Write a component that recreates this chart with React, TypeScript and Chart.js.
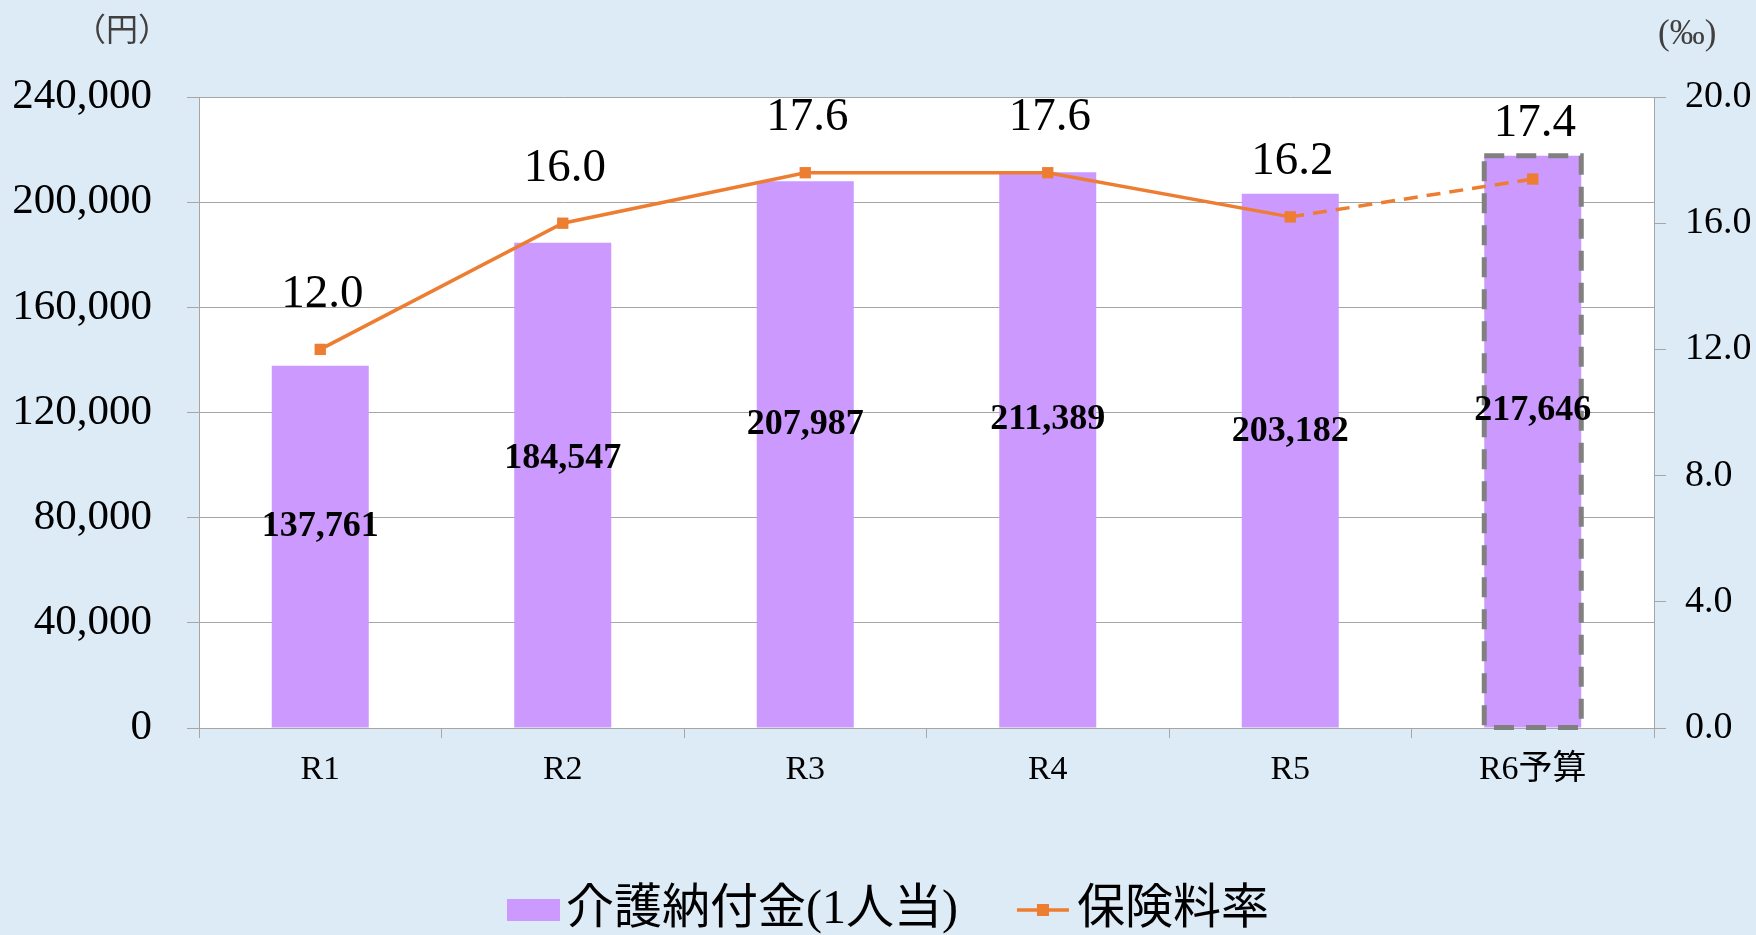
import React, { useEffect, useRef } from 'react';
import { Chart, registerables } from 'chart.js';

Chart.register(...registerables);

const categories = ['R1', 'R2', 'R3', 'R4', 'R5', 'R6予算'];
const paymentPerPerson = [137761, 184547, 207987, 211389, 203182, 217646];
const premiumRate = [12.0, 16.0, 17.6, 17.6, 16.2, 17.4];
const seriesNames = ['介護納付金(1人当)', '保険料率'];
const unitLabels = ['（円）', '(‰)'];

const PURPLE = '#CC99FF';
const ORANGE = '#ED7D31';
const GRID = '#A6A6A6';
const BG = '#DDEBF7';
const FAMILY = '"Liberation Serif", "Noto Sans CJK JP", serif';

const W = 1756;
const H = 935;

export default function App() {
  const ref = useRef<HTMLCanvasElement>(null);

  useEffect(() => {
    document.body.style.margin = '0';
    const canvas = ref.current!;

    const decor = {
      id: 'decor',
      beforeDraw(chart: any) {
        const { ctx, chartArea } = chart;
        ctx.save();
        ctx.fillStyle = BG;
        ctx.fillRect(0, 0, chart.width, chart.height);
        ctx.fillStyle = '#FFFFFF';
        ctx.fillRect(chartArea.left, chartArea.top, chartArea.right - chartArea.left, chartArea.bottom - chartArea.top);
        ctx.restore();
      },
      afterDatasetDraw(chart: any, args: any) {
        if (args.index !== 0) return;
        const meta = chart.getDatasetMeta(0);
        const bar = meta.data[meta.data.length - 1];
        if (!bar) return;
        const { x, y, base, width } = bar.getProps(['x', 'y', 'base', 'width'], true);
        const { ctx } = chart;
        ctx.save();
        ctx.strokeStyle = '#808080';
        ctx.lineWidth = 5;
        ctx.setLineDash([20, 12]);
        ctx.strokeRect(x - width / 2, y, width, base - y);
        ctx.restore();
      },
      afterDraw(chart: any) {
        const { ctx } = chart;
        const yYen = chart.scales.yYen;
        const yRate = chart.scales.yRate;
        const barMeta = chart.getDatasetMeta(0);
        const lineMeta = chart.getDatasetMeta(1);
        ctx.save();
        // bar value labels
        ctx.fillStyle = '#000';
        ctx.textAlign = 'center';
        ctx.textBaseline = 'middle';
        ctx.font = `bold 36px ${FAMILY}`;
        barMeta.data.forEach((el: any, i: number) => {
          const v = paymentPerPerson[i];
          const yy = yYen.getPixelForValue(v * 0.555);
          ctx.fillText(v.toLocaleString('en-US'), el.x, yy);
        });
        // line value labels
        ctx.font = `47px ${FAMILY}`;
        lineMeta.data.forEach((el: any, i: number) => {
          const yy = yRate.getPixelForValue(premiumRate[i]) - 55;
          ctx.fillText(premiumRate[i].toFixed(1), el.x + 2, yy);
        });
        // unit labels
        ctx.fillStyle = '#404040';
        ctx.font = `32px "Noto Sans CJK JP", ${FAMILY}`;
        ctx.textAlign = 'right';
        ctx.fillText(unitLabels[0], 170, 29);
        ctx.font = `35px ${FAMILY}`;
        ctx.textAlign = 'left';
        ctx.fillText(unitLabels[1], 1658, 35);

        // legend
        const ly = 910;
        let lx = 507;
        ctx.fillStyle = PURPLE;
        ctx.fillRect(lx, ly - 11, 53, 22);
        lx += 59;
        ctx.font = `48px ${FAMILY}`;
        ctx.fillStyle = '#000';
        ctx.textAlign = 'left';
        ctx.textBaseline = 'middle';
        ctx.fillText(seriesNames[0], lx, ly);
        lx += ctx.measureText(seriesNames[0]).width + 59;
        ctx.strokeStyle = ORANGE;
        ctx.lineWidth = 3.5;
        ctx.beginPath();
        ctx.moveTo(lx, ly);
        ctx.lineTo(lx + 52, ly);
        ctx.stroke();
        ctx.fillStyle = ORANGE;
        ctx.fillRect(lx + 26 - 6, ly - 6, 12, 12);
        lx += 60;
        ctx.fillStyle = '#000';
        ctx.fillText(seriesNames[1], lx, ly);
        ctx.restore();
      },
    };

    const chart = new Chart(canvas, {
      type: 'bar',
      data: {
        labels: categories,
        datasets: [
          {
            type: 'bar',
            label: seriesNames[0],
            data: paymentPerPerson,
            yAxisID: 'yYen',
            backgroundColor: PURPLE,
            barPercentage: 0.4,
            categoryPercentage: 1,
            order: 1,
          } as any,
          {
            type: 'line',
            label: seriesNames[1],
            data: premiumRate,
            yAxisID: 'yRate',
            borderColor: ORANGE,
            backgroundColor: ORANGE,
            borderWidth: 3.5,
            pointStyle: 'rect',
            pointRadius: 8,
            pointBorderWidth: 0,
            tension: 0,
            order: 0,
            segment: {
              borderDash: (c: any) => (c.p0DataIndex === 4 ? [14, 9] : undefined),
            },
          } as any,
        ],
      },
      options: {
        responsive: false,
        animation: false,
        layout: { padding: { top: 97, left: 0, right: 0, bottom: 0 } },
        plugins: {
          legend: { display: false },
          tooltip: { enabled: false },
        },
        scales: {
          x: {
            grid: { display: true, drawOnChartArea: false, drawTicks: true, tickLength: 10, color: GRID, offset: true },
            border: { color: GRID },
            ticks: { font: { family: FAMILY, size: 34 }, color: '#000', padding: 12 },
            afterFit: (s: any) => { s.height = H - 728; },
          },
          yYen: {
            position: 'left',
            min: 0,
            max: 240000,
            ticks: {
              stepSize: 40000,
              font: { family: FAMILY, size: 43 },
              color: '#000',
              padding: 35,
              callback: (v: any) => Number(v).toLocaleString('en-US'),
            },
            grid: { color: GRID, tickLength: 12 },
            border: { color: GRID },
            afterFit: (s: any) => { s.width = 199; },
          },
          yRate: {
            position: 'right',
            min: 0,
            max: 20,
            ticks: {
              stepSize: 4,
              font: { family: FAMILY, size: 38 },
              color: '#000',
              padding: 19,
              callback: (v: any) => Number(v).toFixed(1),
            },
            grid: { drawOnChartArea: false, color: GRID, tickLength: 12 },
            border: { color: GRID },
            afterFit: (s: any) => { s.width = W - 1654; },
          },
        },
      } as any,
      plugins: [decor],
    });

    return () => chart.destroy();
  }, []);

  return (
    <div style={{ position: 'absolute', left: 0, top: 0, width: W, height: H, background: BG }}>
      <canvas ref={ref} width={W} height={H} style={{ display: 'block' }} />
    </div>
  );
}
